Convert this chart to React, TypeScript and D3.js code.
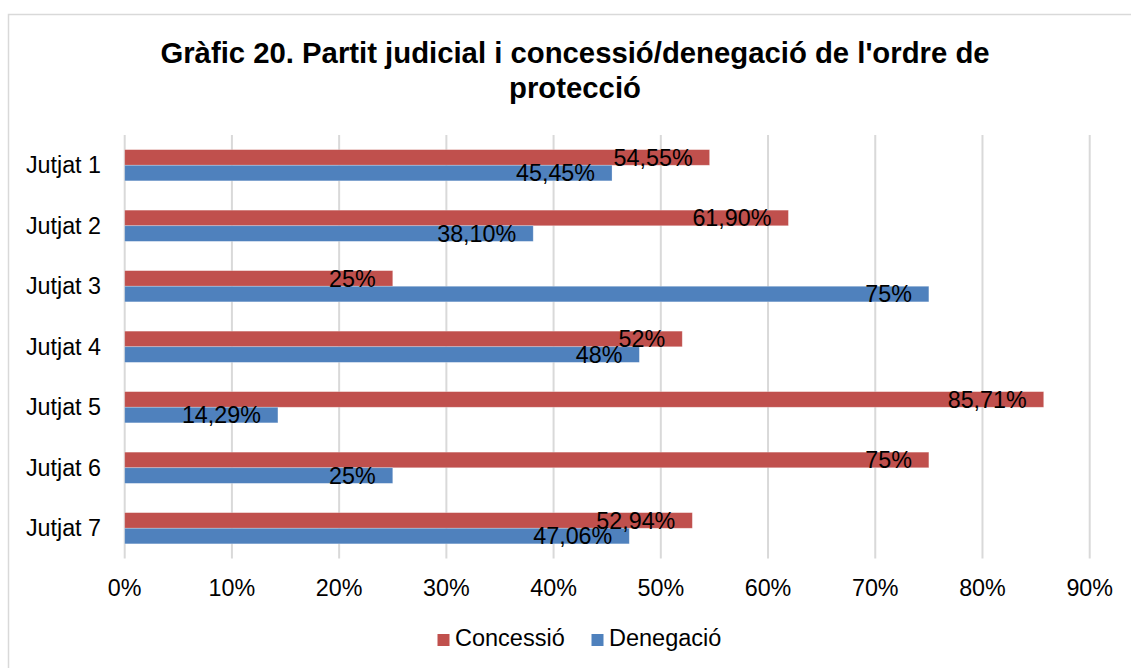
import React from "react";
import * as d3 from "d3";

const categories = ["Jutjat 1", "Jutjat 2", "Jutjat 3", "Jutjat 4", "Jutjat 5", "Jutjat 6", "Jutjat 7"];
const concessio = [54.55, 61.9, 25, 52, 85.71, 75, 52.94];
const denegacio = [45.45, 38.1, 75, 48, 14.29, 25, 47.06];
const concessioLabels = ["54,55%", "61,90%", "25%", "52%", "85,71%", "75%", "52,94%"];
const denegacioLabels = ["45,45%", "38,10%", "75%", "48%", "14,29%", "25%", "47,06%"];
const xTicks = [0, 10, 20, 30, 40, 50, 60, 70, 80, 90];
const seriesNames = ["Concessió", "Denegació"];
const colors = ["#C0504D", "#4F81BD"];
const titleLines = ["Gràfic 20. Partit judicial i concessió/denegació de l'ordre de", "protecció"];

const W = 1131;
const H = 668;
const FONT = "'Liberation Sans', Arial, sans-serif";

export default function App() {
  const x = d3.scaleLinear().domain([0, 90]).range([124.7, 1089.7]);
  const y = d3.scaleBand<string>().domain(categories).range([135, 558.5]).paddingInner(0).paddingOuter(0);
  const bw = y.bandwidth();
  const barH = bw * 0.258;
  const series = [
    { name: seriesNames[0], values: concessio, labels: concessioLabels, color: colors[0] },
    { name: seriesNames[1], values: denegacio, labels: denegacioLabels, color: colors[1] },
  ];

  return (
    <svg width={W} height={H} style={{ position: "absolute", left: 0, top: 0, background: "#fff" }} fontFamily={FONT}>
      <rect x={8.5} y={14.5} width={1200} height={800} fill="#fff" stroke="#d9d9d9" strokeWidth={1.5} />
      {titleLines.map((t, i) => (
        <text key={i} x={575} y={63 + i * 35} textAnchor="middle" fontSize={29.3} fontWeight="bold" fill="#000">
          {t}
        </text>
      ))}
      {xTicks.map((t) => (
        <line key={t} x1={x(t)} x2={x(t)} y1={135} y2={558.5} stroke="#d9d9d9" strokeWidth={2} />
      ))}
      {series.map((s, si) =>
        categories.map((c, ci) => {
          const y0 = (y(c) as number) + bw / 2 - barH + si * barH;
          return (
            <rect
              key={`${si}-${ci}`}
              x={x(0)}
              y={y0}
              width={x(s.values[ci]) - x(0)}
              height={barH}
              fill={s.color}
              stroke="rgba(255,255,255,0.35)"
              strokeWidth={0.75}
            />
          );
        })
      )}
      {series.map((s, si) =>
        categories.map((c, ci) => {
          const yc = (y(c) as number) + bw / 2 - barH + si * barH + barH / 2;
          return (
            <text key={`l${si}-${ci}`} x={x(s.values[ci]) - 17} y={yc + 8.3} textAnchor="end" fontSize={23.3} fill="#000">
              {s.labels[ci]}
            </text>
          );
        })
      )}
      {categories.map((c) => (
        <text key={c} x={101} y={(y(c) as number) + bw / 2 + 8} textAnchor="end" fontSize={23.3} fill="#000">
          {c}
        </text>
      ))}
      {xTicks.map((t) => (
        <text key={`t${t}`} x={x(t)} y={596} textAnchor="middle" fontSize={23.3} fill="#000">
          {`${t}%`}
        </text>
      ))}
      <g>
        <rect x={437.5} y={634} width={12} height={12} fill={colors[0]} />
        <text x={455} y={646} fontSize={23.5} fill="#000">{seriesNames[0]}</text>
        <rect x={591.5} y={634} width={12} height={12} fill={colors[1]} />
        <text x={609} y={646} fontSize={23.5} fill="#000">{seriesNames[1]}</text>
      </g>
    </svg>
  );
}
